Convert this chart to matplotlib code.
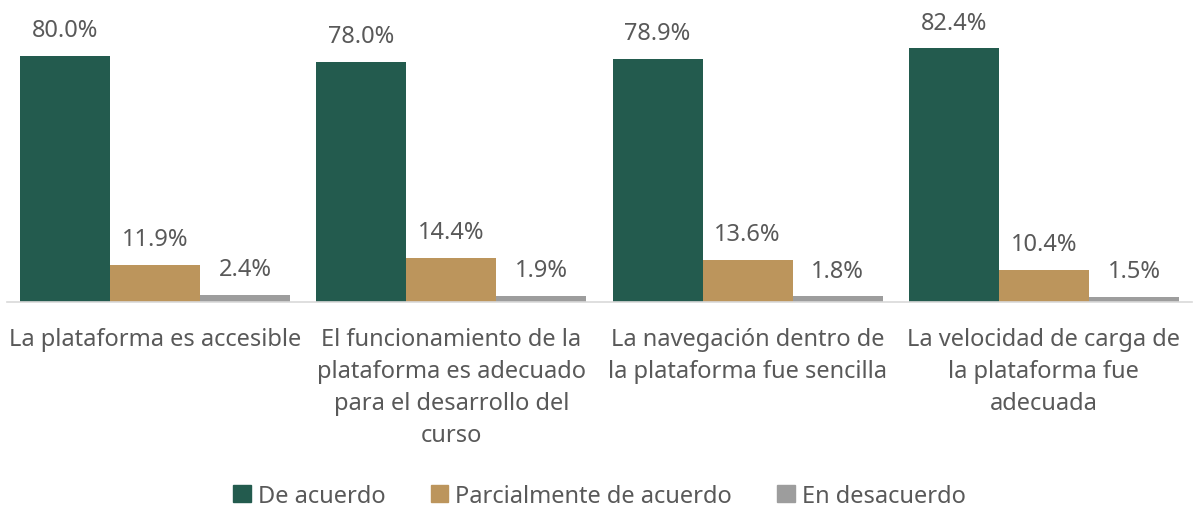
import matplotlib
matplotlib.use("Agg")
import matplotlib.pyplot as plt
import numpy as np
from matplotlib.patches import Patch

plt.rcParams["font.family"] = ["Noto Sans", "DejaVu Sans"]

categories = [
    "La plataforma es accesible",
    "El funcionamiento de la\nplataforma es adecuado\npara el desarrollo del\ncurso",
    "La navegación dentro de\nla plataforma fue sencilla",
    "La velocidad de carga de\nla plataforma fue\nadecuada",
]
series_names = ["De acuerdo", "Parcialmente de acuerdo", "En desacuerdo"]
de_acuerdo = [80.0, 78.0, 78.9, 82.4]
parcial = [11.9, 14.4, 13.6, 10.4]
desacuerdo = [2.4, 1.9, 1.8, 1.5]

colors = ["#235b4e", "#bc955c", "#9d9d9d"]
text_color = "#595959"

fig = plt.figure(figsize=(11.99, 5.10), dpi=100)
ax = fig.add_axes([7 / 1199, 207 / 510, 1185 / 1199, 277 / 510])

x = np.arange(len(categories))
width = 0.304
for i, (vals, name) in enumerate(zip([de_acuerdo, parcial, desacuerdo], series_names)):
    pos = x + (i - 1) * width
    bars = ax.bar(pos, vals, width=width, color=colors[i], label=name)
    for b, v in zip(bars, vals):
        ax.annotate(f"{v:.1f}%", (b.get_x() + b.get_width() / 2, v),
                    xytext=(0, 10), textcoords="offset points",
                    ha="center", va="bottom", fontsize=17, color=text_color)

ax.set_xlim(-0.5, 3.5)
ax.set_ylim(0, 90)
ax.set_yticks([])
ax.set_xticks(x)
ax.set_xticklabels(categories, fontsize=17, color=text_color, linespacing=1.45)
ax.tick_params(axis="x", length=0, pad=18)
for s in ["top", "right", "left"]:
    ax.spines[s].set_visible(False)
ax.spines["bottom"].set_color("#d9d9d9")
ax.spines["bottom"].set_linewidth(1.2)

handles = [Patch(color=c) for c in colors]
fig.legend(handles, series_names, loc="center", bbox_to_anchor=(0.5, 13 / 510),
           ncol=3, frameon=False, fontsize=17, labelcolor=text_color,
           handlelength=0.75, handleheight=0.75, handletextpad=0.3, columnspacing=1.9)

fig.savefig("out.png", dpi=100)
